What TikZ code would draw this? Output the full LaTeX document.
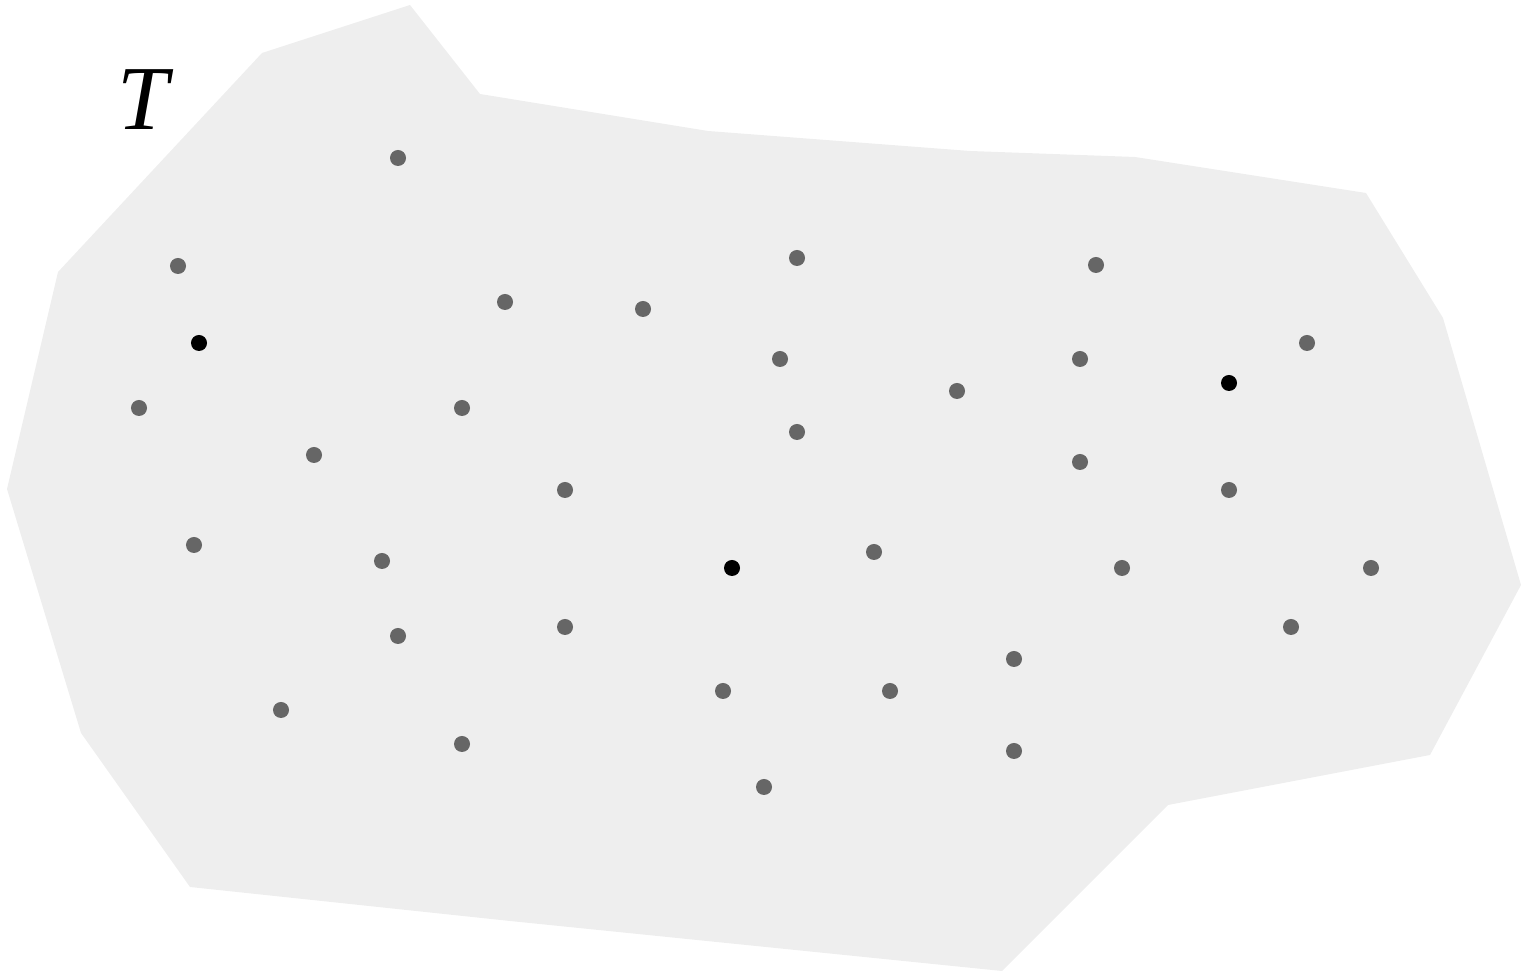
\documentclass[tikz,border=0pt]{standalone}
\usepackage{fontspec}
\setmainfont{Liberation Serif}
\usepackage{tikz}
\definecolor{regionfill}{HTML}{EEEEEE}
\definecolor{ptgray}{HTML}{666666}

\begin{document}
\begin{tikzpicture}[x=0.01cm,y=-0.01cm,
    region/.style={fill=regionfill,draw=none},
    pt/.style={circle,fill=ptgray,inner sep=0pt,minimum size=0.16cm},
    center/.style={circle,fill=black,inner sep=0pt,minimum size=0.16cm}]
  \useasboundingbox (0,0) rectangle (1521,974);
  % the region T
  \fill[region] (410,5) -- (480,94) -- (708,131) -- (970,151) -- (1135,157)
    -- (1366,193) -- (1443,318) -- (1521,585) -- (1430,755) -- (1168,805)
    -- (1002,971) -- (510,921) -- (190,887) -- (81,733) -- (7,489) -- (58,272)
    -- (262,53) -- cycle;
  \node[font=\fontsize{26}{30}\selectfont\itshape] (lblT) at (143,100) {T};
  % points
  \foreach \x/\y [count=\i] in {398/158,178/266,505/302,643/309,797/258,1096/265,
      780/359,1080/359,957/391,1307/343,139/408,462/408,797/432,314/455,1080/462,
      565/490,1229/490,194/545,382/561,874/552,1122/568,1371/568,398/636,565/627,
      1291/627,1014/659,723/691,890/691,281/710,462/744,1014/751,764/787}
    \node[pt] (p\i) at (\x,\y) {};
  % centres
  \foreach \x/\y [count=\i] in {199/343,1229/383,732/568}
    \node[center] (c\i) at (\x,\y) {};
\end{tikzpicture}
\end{document}
